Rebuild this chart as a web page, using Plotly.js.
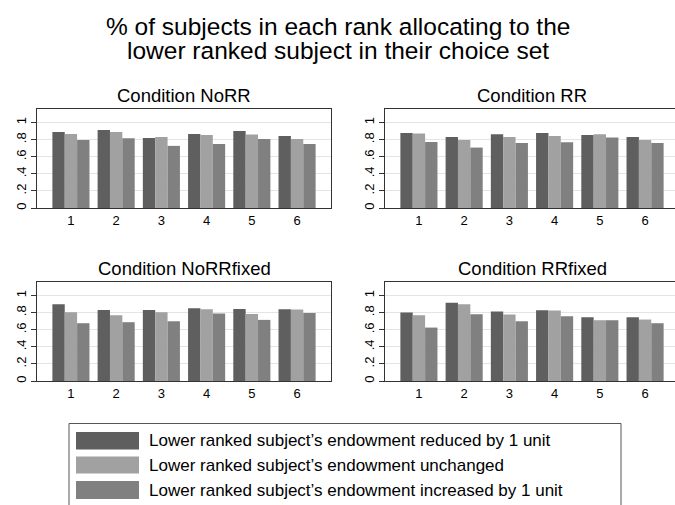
<!DOCTYPE html>
<html>
<head>
<meta charset="utf-8">
<script src="https://cdn.plot.ly/plotly-3.0.1.min.js"></script>
<style>html,body{margin:0;padding:0;background:#fff;}#chart{width:675px;height:505px;}</style>
</head>
<body>
<div id="chart"></div>
<script>
// ---- data ----
const ranks = [1, 2, 3, 4, 5, 6];
const seriesNames = [
  "Lower ranked subject\u2019s endowment reduced by 1 unit",
  "Lower ranked subject\u2019s endowment unchanged",
  "Lower ranked subject\u2019s endowment increased by 1 unit"
];
const panelTitles = ["Condition NoRR", "Condition RR", "Condition NoRRfixed", "Condition RRfixed"];
const yTickVals = [0, 0.2, 0.4, 0.6, 0.8, 1];
const yTickText = ["0", ".2", ".4", ".6", ".8", "1"];

const noRR_reduced   = [0.891, 0.914, 0.821, 0.868, 0.903, 0.844];
const noRR_unchanged = [0.868, 0.891, 0.833, 0.856, 0.860, 0.809];
const noRR_increased = [0.798, 0.817, 0.728, 0.751, 0.809, 0.751];

const rr_reduced   = [0.879, 0.833, 0.864, 0.879, 0.856, 0.833];
const rr_unchanged = [0.872, 0.798, 0.833, 0.844, 0.864, 0.798];
const rr_increased = [0.774, 0.708, 0.763, 0.770, 0.825, 0.763];

const noRRfixed_reduced   = [0.899, 0.833, 0.833, 0.852, 0.844, 0.840];
const noRRfixed_unchanged = [0.805, 0.770, 0.805, 0.840, 0.786, 0.837];
const noRRfixed_increased = [0.677, 0.689, 0.700, 0.790, 0.716, 0.798];

const rrFixed_reduced   = [0.802, 0.918, 0.813, 0.829, 0.747, 0.747];
const rrFixed_unchanged = [0.770, 0.899, 0.778, 0.825, 0.712, 0.720];
const rrFixed_increased = [0.626, 0.782, 0.700, 0.759, 0.712, 0.677];

// ---- styling ----
const colors = ["#5f5f5f", "#a1a1a1", "#808080"];
const W = 675, H = 505;
const fx = p => p / W;
const fy = p => 1 - p / H;
const FONT = "Liberation Sans, Arial, Helvetica, sans-serif";

const panels = [
  [noRR_reduced, noRR_unchanged, noRR_increased],
  [rr_reduced, rr_unchanged, rr_increased],
  [noRRfixed_reduced, noRRfixed_unchanged, noRRfixed_increased],
  [rrFixed_reduced, rrFixed_unchanged, rrFixed_increased]
];

const traces = [];
panels.forEach((sets, pi) => {
  const sfx = pi === 0 ? "" : String(pi + 1);
  sets.forEach((vals, si) => {
    traces.push({
      type: "bar",
      x: ranks,
      y: vals,
      name: seriesNames[si],
      marker: { color: colors[si], line: { width: 0 } },
      xaxis: "x" + sfx,
      yaxis: "y" + sfx,
      showlegend: false,
      hoverinfo: "skip"
    });
  });
});

// geometry (pixels)
const leftX = [37, 331], rightX = [385, 675];
const topY = [109, 208], botY = [282, 381];
const step = (leftX[1] - leftX[0]) / 6.5;
const rightRangeMax = 0.25 + (rightX[1] - rightX[0]) / step;

function xax(dom, rmax) {
  return {
    domain: [fx(dom[0]), fx(dom[1])],
    range: [0.25, rmax],
    tickvals: ranks,
    ticktext: ranks.map(String),
    ticks: "",
    showgrid: false,
    zeroline: false,
    showline: true,
    mirror: true,
    linecolor: "#333",
    linewidth: 1,
    tickfont: { family: FONT, size: 13, color: "#000" },
    fixedrange: true
  };
}
function yax(dom) {
  return {
    domain: [fy(dom[1]), fy(dom[0])],
    range: [0, 1.16],
    tickvals: yTickVals,
    ticktext: yTickText,
    tickangle: -90,
    ticks: "outside",
    ticklen: 5,
    tickcolor: "#333",
    showgrid: true,
    gridcolor: "#e4e4e4",
    gridwidth: 1,
    zeroline: false,
    showline: true,
    mirror: true,
    linecolor: "#333",
    linewidth: 1,
    tickfont: { family: FONT, size: 13, color: "#000" },
    fixedrange: true
  };
}

const annotations = [];
// main title (two lines)
const titleLines = ["% of subjects in each rank allocating to the", "lower ranked subject in their choice set"];
[26.5, 50.8].forEach((py, i) => annotations.push({
  xref: "paper", yref: "paper", x: 0.5, y: fy(py), xanchor: "center", yanchor: "middle",
  text: titleLines[i], showarrow: false, font: { family: FONT, size: 24.5, color: "#000" }
}));
// panel titles
const ptPos = [[184, 95.3], [532, 95.3], [184, 268.6], [532, 268.6]];
panelTitles.forEach((t, i) => annotations.push({
  xref: "paper", yref: "paper", x: fx(ptPos[i][0]), y: fy(ptPos[i][1]), xanchor: "center", yanchor: "middle",
  text: t, showarrow: false, font: { family: FONT, size: 18.5, color: "#000" }
}));

// legend (box, swatches, labels)
const shapes = [{
  type: "rect", xref: "paper", yref: "paper",
  x0: fx(69), x1: fx(621), y0: fy(530), y1: fy(423.5),
  line: { color: "#555", width: 1 }, fillcolor: "rgba(0,0,0,0)"
}];
const legRows = [[432, 449.5], [456.5, 473.5], [481, 499]];
legRows.forEach((r, i) => {
  shapes.push({
    type: "rect", xref: "paper", yref: "paper",
    x0: fx(76), x1: fx(139), y0: fy(r[1]), y1: fy(r[0]),
    line: { width: 0 }, fillcolor: colors[i]
  });
  annotations.push({
    xref: "paper", yref: "paper", x: fx(147), y: fy((r[0] + r[1]) / 2), xanchor: "left", yanchor: "middle",
    text: seriesNames[i], showarrow: false, font: { family: FONT, size: 17, color: "#000" }
  });
});

const layout = {
  width: W, height: H,
  margin: { l: 0, r: 0, t: 0, b: 0, pad: 0 },
  paper_bgcolor: "#fff", plot_bgcolor: "#fff",
  barmode: "group", bargap: 0.18, bargroupgap: 0,
  showlegend: false,
  xaxis: xax(leftX, 6.75), yaxis: yax(topY),
  xaxis2: Object.assign(xax(rightX, rightRangeMax), { anchor: "y2" }), yaxis2: Object.assign(yax(topY), { anchor: "x2" }),
  xaxis3: Object.assign(xax(leftX, 6.75), { anchor: "y3" }), yaxis3: Object.assign(yax(botY), { anchor: "x3" }),
  xaxis4: Object.assign(xax(rightX, rightRangeMax), { anchor: "y4" }), yaxis4: Object.assign(yax(botY), { anchor: "x4" }),
  annotations: annotations,
  shapes: shapes
};
layout.xaxis.anchor = "y";
layout.yaxis.anchor = "x";

Plotly.newPlot("chart", traces, layout, { staticPlot: true, displayModeBar: false });
</script>
</body>
</html>
